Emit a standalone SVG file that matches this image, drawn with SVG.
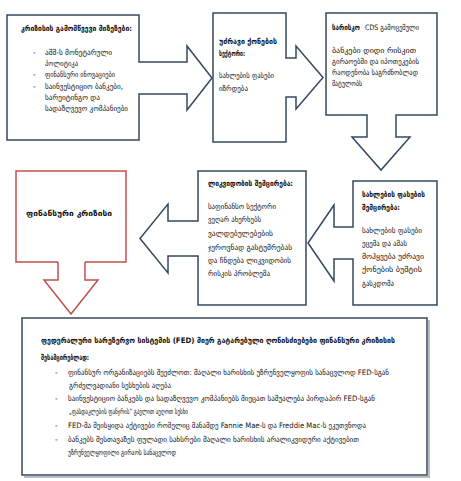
<svg xmlns="http://www.w3.org/2000/svg" width="461" height="481" viewBox="0 0 461 481">
<style>
.box{fill:#fff;stroke:#34495f;stroke-width:1.5;stroke-linejoin:miter}
.red{fill:#fff;stroke:#c0504d;stroke-width:1.5}
.sh{fill:none;stroke:#b8bcc2;stroke-width:2}
text{font-family:"DejaVu Sans","Noto Sans",sans-serif;font-size:7.5px;fill:#111}
.b{font-weight:bold}
</style>
<rect width="461" height="481" fill="#fff"/>
<g id="connectors">
<path class="red" d="M58,262 V280 H44 L71,314 L98,280 H85 V262"/>
</g>
<g id="n1">
<path class="box" d="M7,15 H139 V62 H187 V46 L212,78 L187,110 V94 H139 V140 H7 Z"/>
<text class="b" x="21" y="31" textLength="111" lengthAdjust="spacingAndGlyphs">კრიზისის გამომწვევი მიზეზები:</text>
<text x="33" y="55">-</text>
<text x="45" y="55" textLength="67" lengthAdjust="spacingAndGlyphs">აშშ-ს მონეტარული</text>
<text x="45" y="66" textLength="33" lengthAdjust="spacingAndGlyphs">პოლიტიკა</text>
<text x="33" y="77">-</text>
<text x="45" y="77" textLength="70" lengthAdjust="spacingAndGlyphs">ფინანსური ინოვაციები</text>
<text x="33" y="89">-</text>
<text x="45" y="89" textLength="78" lengthAdjust="spacingAndGlyphs">საინვესტიციო ბანკები,</text>
<text x="45" y="100" textLength="55" lengthAdjust="spacingAndGlyphs">სარეიტინგო და</text>
<text x="45" y="111" textLength="83" lengthAdjust="spacingAndGlyphs">სადაზღვევო კომპანიები</text>
</g>
<g id="n2">
<path class="box" d="M213,13 H286 V58 H296 V46 L323,77.5 L296,109 V97 H286 V142 H213 Z"/>
<text class="b" x="219" y="44" textLength="58" lengthAdjust="spacingAndGlyphs">უძრავი ქონების</text>
<text class="b" x="219" y="56" textLength="26" lengthAdjust="spacingAndGlyphs">სექტორი:</text>
<text x="219" y="78" textLength="55" lengthAdjust="spacingAndGlyphs">სახლების ფასები</text>
<text x="219" y="91" textLength="29" lengthAdjust="spacingAndGlyphs">იზრდება</text>
</g>
<g id="n3">
<path class="box" d="M326,13 H437 V115 H396 V137 H410 L381,170 L352,137 H367 V115 H326 Z"/>
<text class="b" x="332" y="30" textLength="28" lengthAdjust="spacingAndGlyphs">სარისკო</text>
<text x="365" y="30" textLength="54" lengthAdjust="spacingAndGlyphs">CDS გამოცემული</text>
<text x="332" y="53" textLength="84" lengthAdjust="spacingAndGlyphs">ბანკები დიდი რისკით</text>
<text x="332" y="64" textLength="87" lengthAdjust="spacingAndGlyphs">გირაოებში და იპოთეკების</text>
<text x="332" y="75" textLength="86" lengthAdjust="spacingAndGlyphs">რაოდენობა საგრძნობლად</text>
<text x="332" y="86" textLength="30" lengthAdjust="spacingAndGlyphs">მატულობს</text>
</g>
<g id="n4">
<path class="box" d="M353,181 H437 V305 H353 V259 H334 V281 L308,243 L334,205 V227 H353 Z"/>
<text class="b" x="362" y="197" textLength="63" lengthAdjust="spacingAndGlyphs">სახლების ფასების</text>
<text class="b" x="362" y="210" textLength="38" lengthAdjust="spacingAndGlyphs">შემცირება:</text>
<text x="362" y="233" textLength="60" lengthAdjust="spacingAndGlyphs">სახლების ფასები</text>
<text x="362" y="246" textLength="45" lengthAdjust="spacingAndGlyphs">ეცემა და ამას</text>
<text x="362" y="259" textLength="62" lengthAdjust="spacingAndGlyphs">მოჰყვება უძრავი</text>
<text x="362" y="272" textLength="60" lengthAdjust="spacingAndGlyphs">ქონების ბუშტის</text>
<text x="362" y="286" textLength="32" lengthAdjust="spacingAndGlyphs">გასკდომა</text>
</g>
<g id="n5">
<path class="box" d="M198,171 H306 V305 H198 V256 H168 V273 L140,238.5 L168,204 V221 H198 Z"/>
<text class="b" x="208" y="186" textLength="85" lengthAdjust="spacingAndGlyphs">ლიკვიდობის შემცირება:</text>
<text x="208" y="209" textLength="68" lengthAdjust="spacingAndGlyphs">საფინანსო სექტორი</text>
<text x="208" y="222" textLength="53" lengthAdjust="spacingAndGlyphs">ვეღარ ახერხებს</text>
<text x="208" y="236" textLength="65" lengthAdjust="spacingAndGlyphs">ვალდებულებების</text>
<text x="208" y="250" textLength="84" lengthAdjust="spacingAndGlyphs">ჯეროვნად გასტუმრებას</text>
<text x="208" y="263" textLength="83" lengthAdjust="spacingAndGlyphs">და ჩნდება ლიკვიდობის</text>
<text x="208" y="276" textLength="62" lengthAdjust="spacingAndGlyphs">რისკის პრობლემა</text>
</g>
<g id="n6">
<path class="red" d="M58,262 H16 V171 H126 V262 H85"/>
<text class="b" x="26" y="216" textLength="86" lengthAdjust="spacingAndGlyphs">ფინანსური კრიზისი</text>
</g>
<g id="n7">
<path class="sh" d="M429,320 V477 H24"/>
<rect class="box" x="22" y="318" width="405" height="157"/>
<text class="b" x="41" y="343" textLength="354" lengthAdjust="spacingAndGlyphs">ფედერალური სარეზერვო სისტემის (FED) მიერ გატარებული ღონისძიებები ფინანსური კრიზისის</text>
<text class="b" x="41" y="360" textLength="48" lengthAdjust="spacingAndGlyphs">შესამცირებლად:</text>
<text x="55" y="375">-</text>
<text x="68" y="375" textLength="321" lengthAdjust="spacingAndGlyphs">ფინანსურ ორგანიზაციებს შეეძლოთ: მაღალი ხარისხის უზრუნველყოფის სანაცვლოდ FED-სგან</text>
<text x="69" y="388" textLength="102" lengthAdjust="spacingAndGlyphs">გრძელვადიანი სესხების აღება</text>
<text x="55" y="401">-</text>
<text x="68" y="401" textLength="307" lengthAdjust="spacingAndGlyphs">საინვესტიციო ბანკებს და სადაზღვევო კომპანიებს მიეცათ საშუალება პირდაპირ FED-სგან</text>
<text x="69" y="414" textLength="119" lengthAdjust="spacingAndGlyphs">„ფასდაკლების ფანჯრის“ გავლით აეღოთ სესხი</text>
<text x="55" y="428">-</text>
<text x="68" y="428" textLength="298" lengthAdjust="spacingAndGlyphs">FED-მა შეისყიდა აქტივები რომელიც მანამდე Fannie Mae-ს და Freddie Mac-ს ეკუთვნოდა</text>
<text x="55" y="442">-</text>
<text x="68" y="442" textLength="291" lengthAdjust="spacingAndGlyphs">ბანკებს შესთავაზეს ფულადი სახსრები მაღალი ხარისხის არალიკვიდური აქტივებით</text>
<text x="68" y="455" textLength="108" lengthAdjust="spacingAndGlyphs">უზრუნველყოფილი გირაოს სანაცვლოდ</text>
</g>
</svg>
